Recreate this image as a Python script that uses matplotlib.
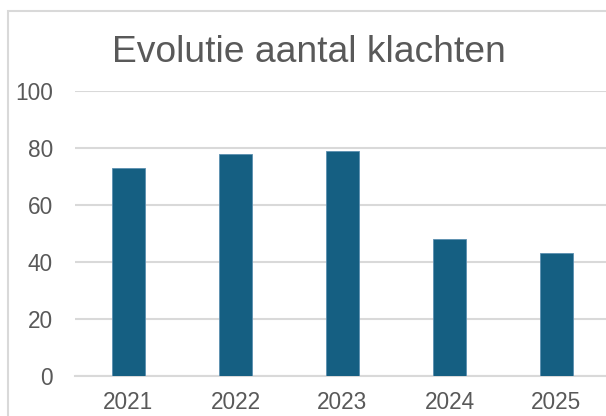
import matplotlib
matplotlib.use("Agg")
import matplotlib.pyplot as plt
from matplotlib.patches import Rectangle

plt.rcParams['font.family'] = ['Liberation Sans', 'DejaVu Sans']

years = ['2021', '2022', '2023', '2024', '2025']
klachten = [73, 78, 79, 48, 43]
yticks = [0, 20, 40, 60, 80, 100]

W, H = 606, 416
fig = plt.figure(figsize=(W / 100, H / 100), dpi=100)

# chart border (cropped at right and bottom)
fig.patches.append(Rectangle((8 / W, -0.1), 1.2, 1.1 - 11 / H,
                             transform=fig.transFigure, fill=False,
                             edgecolor='#D9D9D9', linewidth=1.5))

ax = fig.add_axes([75 / W, 1 - 376 / H, 535 / W, 285 / H])
x = range(len(years))
ax.bar(x, klachten, width=0.31, color='#155F82', edgecolor='#5B8FB0', linewidth=0.6, zorder=3)

ax.set_xlim(-0.5, len(years) - 0.5)
ax.set_ylim(0, 100)
ax.set_yticks(yticks)
ax.set_xticks(list(x))
ax.set_xticklabels(years)
ax.yaxis.grid(True, color='#D9D9D9', linewidth=1.5, zorder=0)
ax.tick_params(axis='both', length=0, labelsize=16.3, colors='#595959')
ax.tick_params(axis='y', pad=16)
ax.tick_params(axis='x', pad=11)
for s in ['top', 'right', 'left']:
    ax.spines[s].set_visible(False)
ax.spines['bottom'].set_color('#D9D9D9')
ax.spines['bottom'].set_linewidth(1.5)

fig.text(309 / W, 1 - 53 / H, 'Evolutie aantal klachten', ha='center', va='center',
         fontsize=26.8, color='#595959')

fig.savefig('out.png', dpi=100)
